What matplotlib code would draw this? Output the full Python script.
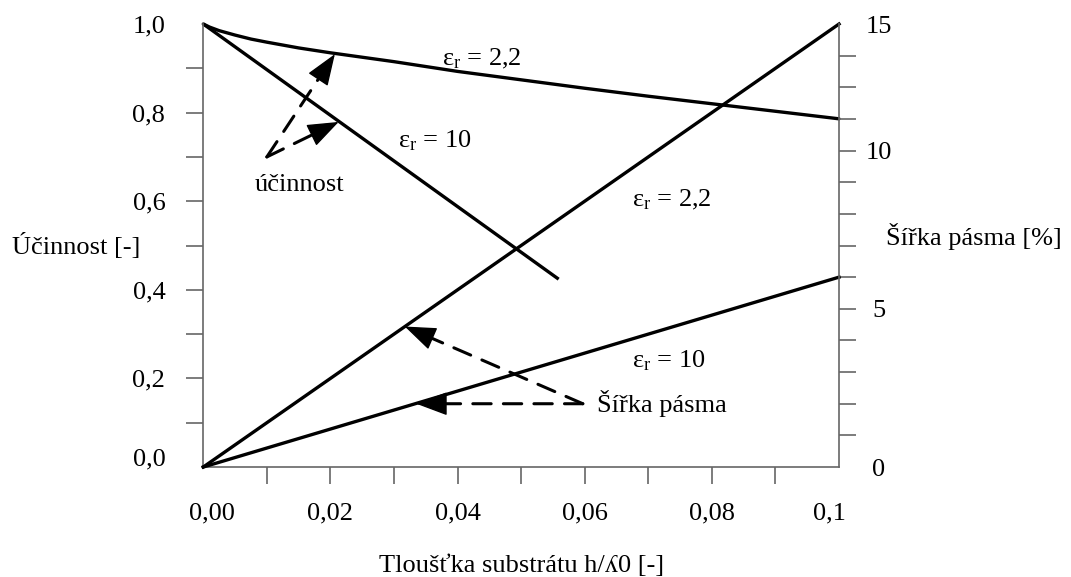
import matplotlib
matplotlib.use('Agg')
import matplotlib.pyplot as plt
from matplotlib.ticker import FixedLocator, FixedFormatter, NullFormatter
from matplotlib.transforms import ScaledTranslation

plt.rcParams['font.family'] = ['Liberation Serif', 'DejaVu Serif']
plt.rcParams['mathtext.fontset'] = 'custom'
plt.rcParams['mathtext.rm'] = 'Liberation Serif'
plt.rcParams['mathtext.it'] = 'Liberation Serif:italic'

FS = 19
PX = 72 / 100.0  # points per pixel

# ---------------- data ----------------
h_eff_22 = [0.0, 0.001, 0.0025, 0.005, 0.0075, 0.01, 0.015, 0.02, 0.03, 0.04, 0.05,
            0.06, 0.07, 0.08, 0.09, 0.1]
eff_22 = [1.0, 0.993, 0.985, 0.975, 0.966, 0.959, 0.946, 0.935, 0.915, 0.893, 0.874,
          0.855, 0.837, 0.820, 0.803, 0.786]
h_eff_10 = [0.0, 0.0559]
eff_10 = [1.0, 0.424]
h_bw = [0.0, 0.1]
bw_22 = [0.0, 14.0]
bw_10 = [0.0, 6.0]

x_label_pos = [0.0, 0.02, 0.04, 0.06, 0.08, 0.1]
x_labels = ['0,00', '0,02', '0,04', '0,06', '0,08', '0,1']
x_tick_marks = [0.01, 0.02, 0.03, 0.04, 0.05, 0.06, 0.07, 0.08, 0.09]
y_label_pos = [0.0, 0.2, 0.4, 0.6, 0.8, 1.0]
y_labels = ['0,0', '0,2', '0,4', '0,6', '0,8', '1,0']
y_tick_marks = [0.1, 0.2, 0.3, 0.4, 0.5, 0.6, 0.7, 0.8, 0.9]
y2_label_pos = [0, 5, 10, 14]
y2_labels = ['0', '5', '10', '15']
y2_tick_marks = [1, 2, 3, 4, 5, 6, 7, 8, 9, 10, 11, 12, 13]

# annotation anchors (data coordinates)
eff_arrow_start = (0.0100, 0.700)
eff_arrow_tips = [(0.0207, 0.932), (0.0213, 0.779)]
eff_text = ('účinnost', 0.0151, 0.623)
bw_arrow_start = (0.0597, 2.0)
bw_arrow_tips = [(0.0335, 2.0), (0.0317, 4.44)]
bw_text = ('Šířka pásma', 0.0619, 1.74)
eff_curve_labels = [(r'$\mathrm{ε_r}$ = 2,2', 0.0376, 0.907), (r'$\mathrm{ε_r}$ = 10', 0.0306, 0.722)]
bw_curve_labels = [(r'$\mathrm{ε_r}$ = 2,2', 0.0674, 8.23), (r'$\mathrm{ε_r}$ = 10', 0.0674, 3.15)]

# ---------------- figure ----------------
fig = plt.figure(figsize=(10.71, 5.77), dpi=100)
ax = fig.add_axes([0.1898, 0.1906, 0.5936, 0.7678])
ax2 = ax.twinx()

spine_c = '#666666'
LW = 2.4

ax.set_xlim(0, 0.1)
ax.set_ylim(0, 1.0)
ax2.set_ylim(0, 14)

for s in ['top', 'right']:
    ax.spines[s].set_visible(False)
for s in ['top', 'left', 'bottom']:
    ax2.spines[s].set_visible(False)
for s in ['left', 'bottom']:
    ax.spines[s].set_color(spine_c)
    ax.spines[s].set_linewidth(1.2)
ax2.spines['right'].set_color(spine_c)
ax2.spines['right'].set_linewidth(1.2)

# x ticks
ax.xaxis.set_major_locator(FixedLocator(x_label_pos))
ax.xaxis.set_major_formatter(FixedFormatter(x_labels))
ax.xaxis.set_minor_locator(FixedLocator(x_tick_marks))
ax.xaxis.set_minor_formatter(NullFormatter())
ax.xaxis.remove_overlapping_locs = False
ax.tick_params(axis='x', which='major', length=0, pad=35 * PX, labelsize=FS)
ax.tick_params(axis='x', which='minor', direction='out', length=17 * PX, width=1.2, color=spine_c)

# left y ticks
ax.yaxis.set_major_locator(FixedLocator(y_label_pos))
ax.yaxis.set_major_formatter(FixedFormatter(y_labels))
ax.yaxis.set_minor_locator(FixedLocator(y_tick_marks))
ax.yaxis.set_minor_formatter(NullFormatter())
ax.yaxis.remove_overlapping_locs = False
ax.tick_params(axis='y', which='major', length=0, pad=38 * PX, labelsize=FS)
ax.tick_params(axis='y', which='minor', direction='out', length=17 * PX, width=1.2, color=spine_c)

# right y ticks
ax2.yaxis.set_major_locator(FixedLocator(y2_label_pos))
ax2.yaxis.set_major_formatter(FixedFormatter(y2_labels))
ax2.yaxis.set_minor_locator(FixedLocator(y2_tick_marks))
ax2.yaxis.set_minor_formatter(NullFormatter())
ax2.yaxis.remove_overlapping_locs = False
ax2.tick_params(axis='y', which='major', length=0, pad=40 * PX, labelsize=FS)
ax2.tick_params(axis='y', which='minor', direction='out', length=17 * PX, width=1.2, color=spine_c)
for lab in ax2.get_yticklabels():
    lab.set_ha('center')

# shift end labels inward like the reference
xt = ax.xaxis.get_major_ticks()
xt[0].label1.set_transform(xt[0].label1.get_transform() + ScaledTranslation(9 / 100, 0, fig.dpi_scale_trans))
xt[-1].label1.set_transform(xt[-1].label1.get_transform() + ScaledTranslation(-10 / 100, 0, fig.dpi_scale_trans))
yt = ax.yaxis.get_major_ticks()
yt[0].label1.set_transform(yt[0].label1.get_transform() + ScaledTranslation(0, 10 / 100, fig.dpi_scale_trans))

# axis labels
ax.set_xlabel('Tloušťka substrátu h/ʎ0 [-]', fontsize=FS, va='center')
ax.xaxis.set_label_coords(0.5, -0.2235)
ax.set_ylabel('Účinnost [-]', fontsize=FS, rotation=0, ha='center', va='center')
ax.yaxis.set_label_coords(-0.2003, 0.498)
ax2.set_ylabel('Šířka pásma [%]', fontsize=FS, rotation=0, ha='center', va='center')
ax2.yaxis.set_label_coords(1.2116, 0.5214)

# curves
ax.plot(h_eff_22, eff_22, color='black', lw=LW, clip_on=False, solid_capstyle='round',
        solid_joinstyle='round')
ax.plot(h_eff_10, eff_10, color='black', lw=LW, clip_on=False, solid_capstyle='butt')
ax2.plot(h_bw, bw_22, color='black', lw=LW, clip_on=False)
ax2.plot(h_bw, bw_10, color='black', lw=LW, clip_on=False)

# text labels
for t, x, y in eff_curve_labels:
    ax2.text(x, y, t, transform=ax.transData, fontsize=FS, ha='left', va='baseline')
for t, x, y in bw_curve_labels:
    ax2.text(x, y, t, fontsize=FS, ha='left', va='baseline')
ax2.text(eff_text[1], eff_text[2], eff_text[0], transform=ax.transData, fontsize=FS,
         ha='center', va='baseline')
ax2.text(bw_text[1], bw_text[2], bw_text[0], fontsize=FS, ha='left', va='baseline')

# dashed arrows: dashed shaft + solid filled head
shaft = dict(arrowstyle='-', color='black', lw=2.2, linestyle=(0, (6, 4)),
             shrinkA=0, shrinkB=12)
head = dict(arrowstyle='-|>,head_length=2.0,head_width=0.75', color='black', lw=1.0,
            shrinkA=0, shrinkB=0, mutation_scale=10)


def dashed_arrow(axis, start, tip, coords):
    axis.annotate('', xy=tip, xytext=start, xycoords=coords, textcoords=coords, arrowprops=shaft)
    near = (tip[0] + 0.08 * (start[0] - tip[0]), tip[1] + 0.08 * (start[1] - tip[1]))
    axis.annotate('', xy=tip, xytext=near, xycoords=coords, textcoords=coords, arrowprops=head)


for tip in eff_arrow_tips:
    dashed_arrow(ax2, eff_arrow_start, tip, ax.transData)
for tip in bw_arrow_tips:
    dashed_arrow(ax2, bw_arrow_start, tip, ax2.transData)

fig.savefig('out.png', dpi=100)
